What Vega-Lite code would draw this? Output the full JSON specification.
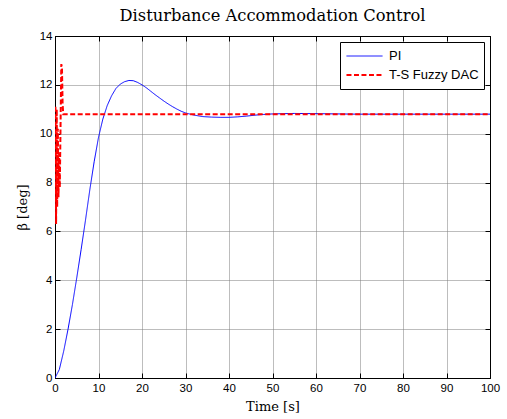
{
  "$schema": "https://vega.github.io/schema/vega-lite/v6.json",
  "width": 435,
  "height": 342,
  "autosize": "none",
  "padding": {"left": 55, "top": 36, "right": 17, "bottom": 41},
  "background": "white",
  "config": {
    "view": {"stroke": "black", "strokeWidth": 1},
    "axis": {
      "domainColor": "black",
      "tickColor": "black",
      "labelColor": "black",
      "labelFont": "Liberation Sans",
      "labelFontSize": 11.5,
      "titleFont": "DejaVu Serif",
      "titleFontWeight": "normal",
      "titleFontSize": 13,
      "titleColor": "black"
    }
  },
  "title": {
    "text": "Disturbance Accommodation Control",
    "font": "DejaVu Serif",
    "fontSize": 16.3,
    "fontWeight": "normal",
    "color": "black",
    "offset": 6
  },
  "data": {
    "values": [
      {"t": 0, "v": 0, "s": "PI"},
      {"t": 1, "v": 0.35, "s": "PI"},
      {"t": 2, "v": 1.1, "s": "PI"},
      {"t": 3, "v": 2.0, "s": "PI"},
      {"t": 4, "v": 3.0, "s": "PI"},
      {"t": 5, "v": 4.1, "s": "PI"},
      {"t": 6, "v": 5.25, "s": "PI"},
      {"t": 7, "v": 6.45, "s": "PI"},
      {"t": 8, "v": 7.7, "s": "PI"},
      {"t": 9, "v": 8.85, "s": "PI"},
      {"t": 10, "v": 9.85, "s": "PI"},
      {"t": 11, "v": 10.6, "s": "PI"},
      {"t": 12, "v": 11.15, "s": "PI"},
      {"t": 13, "v": 11.55, "s": "PI"},
      {"t": 14, "v": 11.85, "s": "PI"},
      {"t": 15, "v": 12.03, "s": "PI"},
      {"t": 16, "v": 12.13, "s": "PI"},
      {"t": 17, "v": 12.18, "s": "PI"},
      {"t": 18, "v": 12.17, "s": "PI"},
      {"t": 19, "v": 12.1, "s": "PI"},
      {"t": 20, "v": 12.0, "s": "PI"},
      {"t": 21, "v": 11.88, "s": "PI"},
      {"t": 22, "v": 11.74, "s": "PI"},
      {"t": 23, "v": 11.6, "s": "PI"},
      {"t": 24, "v": 11.47, "s": "PI"},
      {"t": 25, "v": 11.34, "s": "PI"},
      {"t": 26, "v": 11.22, "s": "PI"},
      {"t": 27, "v": 11.11, "s": "PI"},
      {"t": 28, "v": 11.01, "s": "PI"},
      {"t": 29, "v": 10.92, "s": "PI"},
      {"t": 30, "v": 10.85, "s": "PI"},
      {"t": 32, "v": 10.76, "s": "PI"},
      {"t": 34, "v": 10.7, "s": "PI"},
      {"t": 36, "v": 10.68, "s": "PI"},
      {"t": 38, "v": 10.67, "s": "PI"},
      {"t": 40, "v": 10.67, "s": "PI"},
      {"t": 42, "v": 10.69, "s": "PI"},
      {"t": 44, "v": 10.72, "s": "PI"},
      {"t": 46, "v": 10.76, "s": "PI"},
      {"t": 48, "v": 10.79, "s": "PI"},
      {"t": 50, "v": 10.81, "s": "PI"},
      {"t": 55, "v": 10.83, "s": "PI"},
      {"t": 60, "v": 10.82, "s": "PI"},
      {"t": 65, "v": 10.81, "s": "PI"},
      {"t": 70, "v": 10.8, "s": "PI"},
      {"t": 100, "v": 10.8, "s": "PI"},
      {"t": 0.1, "v": 11.1, "s": "T-S Fuzzy DAC"},
      {"t": 0.25, "v": 6.3, "s": "T-S Fuzzy DAC"},
      {"t": 0.4, "v": 11.0, "s": "T-S Fuzzy DAC"},
      {"t": 0.5, "v": 7.0, "s": "T-S Fuzzy DAC"},
      {"t": 0.65, "v": 10.2, "s": "T-S Fuzzy DAC"},
      {"t": 0.8, "v": 7.4, "s": "T-S Fuzzy DAC"},
      {"t": 0.95, "v": 9.2, "s": "T-S Fuzzy DAC"},
      {"t": 1.1, "v": 7.8, "s": "T-S Fuzzy DAC"},
      {"t": 1.45, "v": 12.85, "s": "T-S Fuzzy DAC"},
      {"t": 1.6, "v": 12.7, "s": "T-S Fuzzy DAC"},
      {"t": 1.75, "v": 11.2, "s": "T-S Fuzzy DAC"},
      {"t": 1.9, "v": 10.8, "s": "T-S Fuzzy DAC"},
      {"t": 5, "v": 10.8, "s": "T-S Fuzzy DAC"},
      {"t": 100, "v": 10.8, "s": "T-S Fuzzy DAC"}
    ]
  },
  "layer": [
    {
      "mark": {"type": "line", "clip": true},
      "encoding": {
        "x": {
          "field": "t", "type": "quantitative",
          "scale": {"domain": [0, 100], "nice": false, "zero": false},
          "axis": {
            "title": "Time [s]", "values": [0,10,20,30,40,50,60,70,80,90,100],
            "grid": true, "gridColor": "#7a7a7a", "gridDash": [1, 1], "gridWidth": 1,
            "tickSize": -5, "labelPadding": 9, "titlePadding": 7, "labelFlush": false
          }
        },
        "y": {
          "field": "v", "type": "quantitative",
          "scale": {"domain": [0, 14], "nice": false},
          "axis": {
            "title": "β [deg]", "values": [0,2,4,6,8,10,12,14],
            "grid": true, "gridColor": "#7a7a7a", "gridDash": [1, 1], "gridWidth": 1,
            "tickSize": -5, "labelPadding": 8, "titlePadding": 10
          }
        },
        "color": {
          "field": "s", "type": "nominal",
          "scale": {"domain": ["PI", "T-S Fuzzy DAC"], "range": ["#0000ff", "#ff0000"]},
          "legend": {
            "title": null,
            "orient": "top-right",
            "offset": 6,
            "strokeColor": "black",
            "fillColor": "white",
            "padding": 5,
            "symbolType": "stroke",
            "symbolSize": 1300,
            "symbolStrokeWidth": 1.5,
            "clipHeight": 18,
            "rowPadding": 1,
            "labelFont": "Liberation Sans",
            "labelFontSize": 13,
            "labelColor": "black",
            "labelOffset": 5
          }
        },
        "strokeDash": {
          "field": "s", "type": "nominal",
          "scale": {"domain": ["PI", "T-S Fuzzy DAC"], "range": [[1, 0], [5, 2.5]]},
          "legend": null
        },
        "strokeWidth": {
          "field": "s", "type": "nominal",
          "scale": {"domain": ["PI", "T-S Fuzzy DAC"], "range": [1, 2]},
          "legend": null
        }
      }
    },
    {
      "mark": {"type": "point", "opacity": 0},
      "encoding": {
        "x": {
          "field": "t", "type": "quantitative",
          "axis": {"orient": "top", "title": null, "labels": false, "grid": false, "tickSize": -5, "values": [0,10,20,30,40,50,60,70,80,90,100]}
        },
        "y": {
          "field": "v", "type": "quantitative",
          "axis": {"orient": "right", "title": null, "labels": false, "grid": false, "tickSize": -5, "values": [0,2,4,6,8,10,12,14]}
        }
      }
    }
  ],
  "resolve": {"axis": {"x": "independent", "y": "independent"}}
}
